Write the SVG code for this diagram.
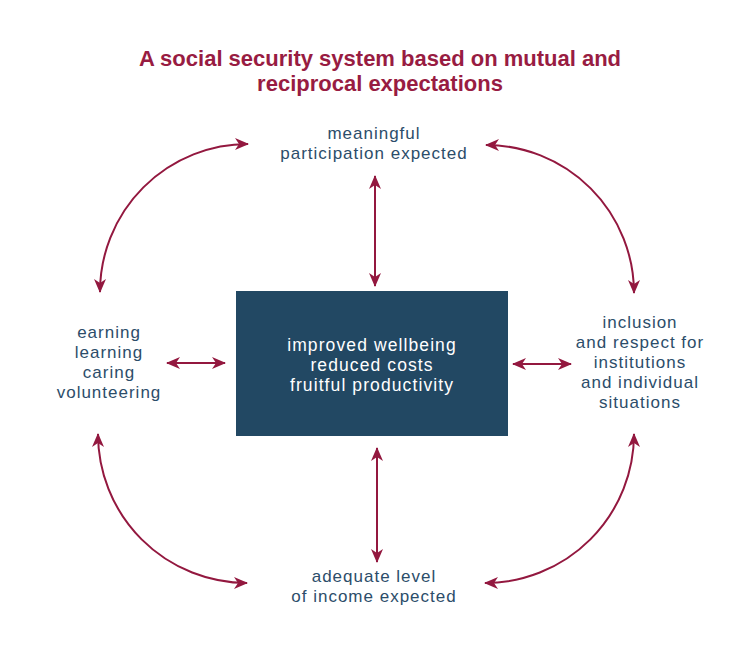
<svg xmlns="http://www.w3.org/2000/svg" width="750" height="656" viewBox="0 0 750 656">
<defs>
<style>
.title{font-family:"Liberation Sans",Arial,sans-serif;font-weight:bold;font-size:22px;fill:#981c42;text-anchor:middle}
.lbl{font-family:"Liberation Sans",Arial,sans-serif;font-size:17px;fill:#2c4d6a;text-anchor:middle;letter-spacing:1px}
.box{fill:#224863}
.boxt{font-family:"Liberation Sans",Arial,sans-serif;font-size:17.5px;fill:#ffffff;text-anchor:middle;letter-spacing:1.1px}
.con{fill:none;stroke:#93183f;stroke-width:2;marker-start:url(#ah);marker-end:url(#ah)}
</style>
<marker id="ah" viewBox="0 0 14 12" refX="13" refY="6" markerWidth="14" markerHeight="12" markerUnits="userSpaceOnUse" orient="auto-start-reverse">
<path d="M0,0 L14,6 L0,12 L4,6 z" fill="#93183f"/>
</marker>
</defs>
<rect width="750" height="656" fill="#ffffff"/>
<g id="title">
<text class="title" x="380" y="66">A social security system based on mutual and</text>
<text class="title" x="380" y="91">reciprocal expectations</text>
</g>
<g id="center">
<rect class="box" x="236" y="291" width="272" height="145"/>
<text class="boxt" x="372" y="351">improved wellbeing</text>
<text class="boxt" x="372" y="371">reduced costs</text>
<text class="boxt" x="372" y="391">fruitful productivity</text>
</g>
<g id="top">
<text class="lbl" x="374" y="139">meaningful</text>
<text class="lbl" x="374" y="159">participation expected</text>
</g>
<g id="left">
<text class="lbl" x="109" y="338">earning</text>
<text class="lbl" x="109" y="358">learning</text>
<text class="lbl" x="109" y="378">caring</text>
<text class="lbl" x="109" y="398">volunteering</text>
</g>
<g id="right">
<text class="lbl" x="640" y="328">inclusion</text>
<text class="lbl" x="640" y="348">and respect for</text>
<text class="lbl" x="640" y="368">institutions</text>
<text class="lbl" x="640" y="388">and individual</text>
<text class="lbl" x="640" y="408">situations</text>
</g>
<g id="bottom">
<text class="lbl" x="374" y="582">adequate level</text>
<text class="lbl" x="374" y="602">of income expected</text>
</g>
<g id="connectors">
<line class="con" x1="375" y1="176" x2="375" y2="286"/>
<line class="con" x1="377" y1="448" x2="377" y2="562"/>
<line class="con" x1="167" y1="363" x2="225" y2="363"/>
<line class="con" x1="513" y1="364" x2="571" y2="364"/>
<path class="con" d="M248,144 A148,148 0 0 0 100,292"/>
<path class="con" d="M486,145 A148,148 0 0 1 634,293"/>
<path class="con" d="M98,434 A149,149 0 0 0 247,583"/>
<path class="con" d="M634,434 A149,149 0 0 1 485,583"/>
</g>
</svg>
